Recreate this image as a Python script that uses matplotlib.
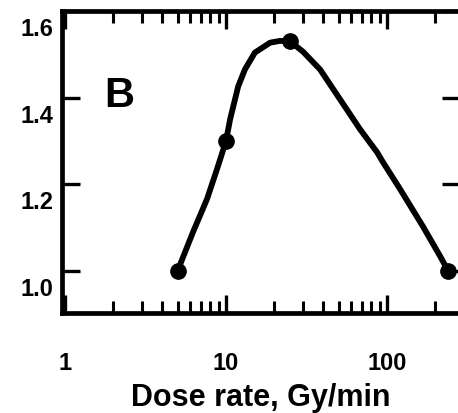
import numpy as np
import matplotlib.pyplot as plt
from matplotlib.transforms import ScaledTranslation

plt.rcParams['font.family'] = ['Liberation Sans', 'DejaVu Sans']
plt.rcParams['font.weight'] = 'bold'

# measured points
dose_rate = [5, 10, 25, 240]
ratio = [1.0, 1.30, 1.53, 1.0]

# smooth curve
curve_x = [5, 6.24, 7.62, 8.79, 10, 10.6, 11.9, 13.1, 15.1, 18.8, 21.6, 25,
           30.1, 38.4, 51.1, 68, 86.7, 94.4, 120.5, 167, 213, 240]
curve_y = [1.0, 1.090, 1.166, 1.235, 1.30, 1.350, 1.426, 1.465, 1.504, 1.527,
           1.531, 1.53, 1.506, 1.465, 1.396, 1.327, 1.274, 1.251, 1.189, 1.103,
           1.035, 1.0]

xticks = [1, 10, 100]
xtick_labels = ["1", "10", "100"]
yticks = [1.0, 1.2, 1.4, 1.6]
ytick_labels = ["1.0", "1.2", "1.4", "1.6"]

fig = plt.figure(figsize=(4.58, 4.14), dpi=100)
ax = fig.add_axes([0.1354, 0.2415, 0.869, 0.7295])

ax.plot(curve_x, curve_y, color="black", lw=4.2, solid_capstyle="round",
        solid_joinstyle="round", zorder=2)
ax.plot(dose_rate, ratio, "o", color="black", ms=11, zorder=3)

ax.set_xscale("log")
ax.set_xlim(0.958, 284)
ax.set_ylim(0.903, 1.6)

ax.set_xticks(xticks)
ax.set_xticklabels(xtick_labels)
ax.set_yticks(yticks)
ax.set_yticklabels(ytick_labels)

for s in ax.spines.values():
    s.set_linewidth(3.4)

ax.tick_params(axis="both", which="major", direction="in", length=13, width=2.4,
               labelsize=17, top=True, right=True)
ax.tick_params(axis="x", which="minor", direction="in", length=8.5, width=2.2,
               top=True, bottom=True)
ax.tick_params(axis="x", which="major", pad=27)
ax.tick_params(axis="y", which="major", pad=6)

off = ScaledTranslation(0, -15 / 100, fig.dpi_scale_trans)
for lab in ax.get_yticklabels():
    lab.set_transform(lab.get_transform() + off)
    lab.set_fontweight("bold")
for lab in ax.get_xticklabels():
    lab.set_fontweight("bold")

ax.set_xlabel("Dose rate, Gy/min", fontsize=22, fontweight="bold", labelpad=6)
ax.text(0.143, 0.722, "B", transform=ax.transAxes, fontsize=30,
        fontweight="bold", ha="center", va="center")

plt.savefig("out.png", dpi=100)
